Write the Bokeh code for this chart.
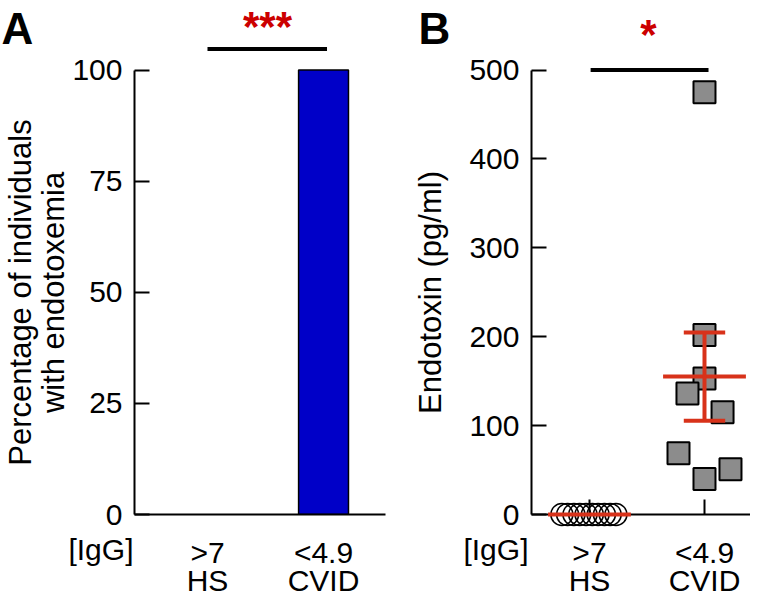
import numpy as np
from bokeh.plotting import figure
from bokeh.layouts import row
from bokeh.models import FixedTicker, Range1d
from bokeh.core.properties import value
from bokeh.embed import file_html
from bokeh.resources import INLINE

FONT = "Liberation Sans"

# ---------------- data ----------------
groups = ["HS", "CVID"]
igg_labels = [">7", "<4.9"]
pct_endotoxemia = [0, 100]
pct_ticks = [0, 25, 50, 75, 100]

hs_endotoxin = [0, 0, 0, 0, 0, 0, 0, 0, 0, 0]
hs_jitter = [-0.24, -0.19, -0.135, -0.085, -0.03, 0.025, 0.075, 0.13, 0.18, 0.23]
cvid_endotoxin = [475, 202, 153, 136, 115, 69, 40, 51]
cvid_jitter = [0.0, 0.0, 0.0, -0.148, 0.157, -0.226, 0.0, 0.226]
endo_ticks = [0, 100, 200, 300, 400, 500]
sig_A = "***"
sig_B = "*"
title_A = ["Percentage of individuals", "with endotoxemia"]
title_B = "Endotoxin (pg/ml)"

RED = "#d8321a"
STAR_RED = "#cc0000"
BLUE = "#0000c8"
GREY = "#8c8c8c"

# layout (canvas pixels) -------------------------------------------------
ZERO_Y = 514          # canvas y of the x axis (value 0)
TOP_Y = 69.5          # canvas y of the top y tick
BASE_SHIFT = 0.43     # text glyph baseline offset (em)


def style_axes(p, yticks, ybounds, xtick_in):
    for ax in (p.xaxis[0], p.yaxis[0]):
        ax.axis_line_width = 2
        ax.major_tick_line_width = 2
        ax.minor_tick_line_color = None
        ax.major_label_text_font = FONT
        ax.major_label_text_font_size = "30px"
        ax.major_label_text_color = "black"
        ax.major_tick_out = 0
    p.yaxis.ticker = FixedTicker(ticks=yticks)
    p.yaxis.bounds = ybounds
    p.yaxis.major_tick_in = 15
    p.yaxis.major_label_standoff = 12
    p.xaxis.ticker = FixedTicker(ticks=[0, 1])
    p.xaxis.major_label_overrides = {0: igg_labels[0], 1: igg_labels[1]}
    p.xaxis.major_tick_in = xtick_in
    p.xaxis.major_label_standoff = 21
    p.xgrid.visible = False
    p.ygrid.visible = False
    p.outline_line_color = None


def make_text_adder(p, x0px, kx, ky):
    """Place a text by canvas pixel position of its ink baseline."""
    def add(X, Y, text, size=30, bold=False, color="black", align="center",
            rotated=False):
        if rotated:
            X = X - BASE_SHIFT * size
        else:
            Y = Y - BASE_SHIFT * size
        r = p.text(x=[(X - x0px) / kx], y=[(ZERO_Y - Y) / ky], text=[text],
                   text_font=value(FONT), text_font_size=value(f"{size}px"),
                   text_font_style="bold" if bold else "normal",
                   text_color=color, text_align=align,
                   text_baseline="alphabetic",
                   angle=np.pi / 2 if rotated else 0.0)
        r.level = "overlay"
        return r
    return add


# ---------------- panel A ----------------
kyA = (ZERO_Y - TOP_Y) / max(pct_ticks)
pA = figure(width=400, height=600, output_backend="svg", toolbar_location=None,
            x_range=Range1d(-0.629, 1.534), y_range=Range1d(0, ZERO_Y / kyA),
            min_border_left=134, min_border_right=15, min_border_top=0,
            min_border_bottom=600 - ZERO_Y)
style_axes(pA, pct_ticks, (0, 100), 0)

pA.vbar(x=[1], top=[pct_endotoxemia[1]], width=0.43, fill_color=BLUE,
        line_color="black", line_width=1.5)
sigA_y = max(pct_endotoxemia) * 1.047
pA.segment(x0=[0.0], x1=[1.03], y0=[sigA_y], y1=[sigA_y], line_color="black",
           line_width=4)
tA = make_text_adder(pA, 207, 116, kyA)
tA(267, 44, sig_A, size=42, bold=True, color=STAR_RED)
tA(1, 47, "A", size=44, bold=True, align="left")
tA(33, 292, title_A[0], size=31, rotated=True)
tA(66, 292, title_A[1], size=31, rotated=True)
tA(100.5, 562, "[IgG]")
tA(207, 593, groups[0])
tA(323, 593, groups[1])

# ---------------- panel B ----------------
kyB = (ZERO_Y - TOP_Y) / max(endo_ticks)
pB = figure(width=350, height=600, output_backend="svg", toolbar_location=None,
            x_range=Range1d(-0.504, 1.40), y_range=Range1d(0, ZERO_Y / kyB),
            min_border_left=131, min_border_right=0, min_border_top=0,
            min_border_bottom=600 - ZERO_Y)
style_axes(pB, endo_ticks, (0, 500), 15)

hs_x = [0 + j for j in hs_jitter]
cvid_x = [1 + j for j in cvid_jitter]
r = pB.scatter(hs_x, hs_endotoxin, marker="circle", size=22, fill_color=None,
               line_color="black", line_width=1.5)
r.level = "overlay"
r = pB.scatter(cvid_x, cvid_endotoxin, marker="square", size=22,
               fill_color=GREY, line_color="black", line_width=2)
r.level = "overlay"

for gx, vals in ((0, hs_endotoxin), (1, cvid_endotoxin)):
    arr = np.array(vals, dtype=float)
    m = arr.mean()
    sem = arr.std(ddof=1) / np.sqrt(len(arr))
    r = pB.segment(x0=[gx - 0.36], x1=[gx + 0.36], y0=[m], y1=[m],
                   line_color=RED, line_width=4)
    r.level = "overlay"
    if sem > 0:
        r = pB.segment(x0=[gx, gx - 0.18, gx - 0.18],
                       x1=[gx, gx + 0.18, gx + 0.18],
                       y0=[m - sem, m - sem, m + sem],
                       y1=[m + sem, m - sem, m + sem],
                       line_color=RED, line_width=4)
        r.level = "overlay"

sigB_y = max(endo_ticks)
pB.segment(x0=[0.01], x1=[1.035], y0=[sigB_y], y1=[sigB_y], line_color="black",
           line_width=4)
tB = make_text_adder(pB, 589, 115, kyB)
tB(648, 52, sig_B, size=42, bold=True, color=STAR_RED)
tB(418, 47, "B", size=44, bold=True, align="left")
tB(443, 292, title_B, size=31, rotated=True)
tB(495.5, 562, "[IgG]")
tB(589, 593, groups[0])
tB(704, 593, groups[1])

layout = row(pA, pB)
open("out.html", "w").write(file_html(layout, INLINE))
